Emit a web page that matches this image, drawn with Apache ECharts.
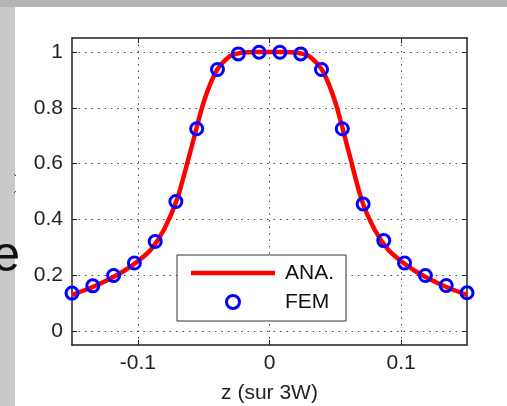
<!DOCTYPE html>
<html>
<head>
<meta charset="utf-8">
<script src="https://cdn.jsdelivr.net/npm/echarts@6/dist/echarts.min.js"></script>
<style>
  html, body { margin: 0; padding: 0; background: #fff; }
  #chart { width: 507px; height: 406px; }
</style>
</head>
<body>
<div id="chart"></div>
<script>
// analytic curve (ANA.)
var anaZ = [-0.15, -0.14, -0.13, -0.12, -0.11, -0.10, -0.09, -0.08, -0.07, -0.06, -0.05, -0.04, -0.03, -0.02, -0.01, 0,
            0.01, 0.02, 0.03, 0.04, 0.05, 0.06, 0.07, 0.08, 0.09, 0.10, 0.11, 0.12, 0.13, 0.14, 0.15];
var anaB = [0.13, 0.147, 0.167, 0.19, 0.217, 0.25, 0.292, 0.365, 0.475, 0.645, 0.82, 0.935, 0.985, 0.998, 1.0, 1.0,
            1.0, 0.998, 0.985, 0.935, 0.82, 0.645, 0.47, 0.362, 0.292, 0.25, 0.217, 0.19, 0.167, 0.147, 0.13];
// finite element points (FEM)
var femZ = [-0.15, -0.1342, -0.1184, -0.1026, -0.0868, -0.0711, -0.0553, -0.0395, -0.0237, -0.0079,
            0.0079, 0.0237, 0.0395, 0.0553, 0.0711, 0.0868, 0.1026, 0.1184, 0.1342, 0.15];
var femB = [0.136, 0.162, 0.199, 0.244, 0.321, 0.464, 0.725, 0.937, 0.993, 0.999,
            0.999, 0.993, 0.937, 0.725, 0.455, 0.324, 0.244, 0.199, 0.163, 0.137];
// ticks
var xTicks = [-0.1, 0, 0.1];
var yTicks = [0, 0.2, 0.4, 0.6, 0.8, 1];

var chart = echarts.init(document.getElementById('chart'), null, { renderer: 'canvas' });

function pairs(xs, ys) {
  var out = [];
  for (var i = 0; i < xs.length; i++) out.push([xs[i], ys[i]]);
  return out;
}

var font = '"Liberation Sans", Arial, sans-serif';
var frame = { show: true, onZero: false, lineStyle: { color: '#222', width: 1.5 } };
var tickIn = { show: true, inside: true, length: 5, lineStyle: { color: '#222', width: 1 } };
var dotted = { show: true, lineStyle: { color: '#444', width: 1, type: [1.5, 5] } };

var option = {
  animation: false,
  backgroundColor: '#fff',
  textStyle: { fontFamily: font },
  graphic: [
    { type: 'rect', shape: { x: 0, y: 0, width: 507, height: 7 }, style: { fill: '#b4b4b4' }, z: -10 },
    { type: 'rect', shape: { x: 0, y: 7, width: 15, height: 399 }, style: { fill: '#c9c9c9' }, z: -10 },
    { type: 'text', x: 20, y: 257, style: { text: 'e', font: '50px ' + font, fill: '#111', textAlign: 'right', textVerticalAlign: 'middle' } },
    { type: 'line', shape: { x1: 14, y1: 174, x2: 16, y2: 176 }, style: { stroke: '#444', lineWidth: 1 } },
    { type: 'line', shape: { x1: 16, y1: 191, x2: 14, y2: 193 }, style: { stroke: '#444', lineWidth: 1 } }
  ],
  grid: { left: 72, right: 40, top: 38, bottom: 61, containLabel: false, outerBoundsMode: 'none' },
  legend: {
    orient: 'vertical',
    left: 177, top: 255,
    padding: [7, 12, 8, 14],
    itemWidth: 84, itemHeight: 13, itemGap: 7,
    backgroundColor: '#fff',
    borderColor: '#333', borderWidth: 1,
    textStyle: { fontSize: 21, color: '#111', lineHeight: 22, padding: [0, 0, 0, 5], fontFamily: font },
    data: [
      { name: 'ANA.', icon: 'path://M0,0L84,0L84,4.5L0,4.5Z' },
      { name: 'FEM', itemStyle: { borderWidth: 3, borderColor: '#0000ff', color: 'rgba(0,0,0,0)' } }
    ]
  },
  xAxis: [
    {
      type: 'value', min: -0.15, max: 0.15, position: 'bottom',
      name: 'z (sur 3W)', nameLocation: 'middle', nameGap: 38,
      nameTextStyle: { fontSize: 21, color: '#222', fontFamily: font },
      axisLine: frame,
      axisTick: Object.assign({ customValues: xTicks }, tickIn),
      axisLabel: { customValues: xTicks, fontSize: 21, color: '#222', margin: 8, fontFamily: font },
      splitLine: dotted
    },
    {
      type: 'value', min: -0.15, max: 0.15, position: 'top',
      axisLine: frame,
      axisTick: Object.assign({ customValues: xTicks }, tickIn),
      axisLabel: { show: false },
      splitLine: { show: false }
    }
  ],
  yAxis: [
    {
      type: 'value', min: -0.05, max: 1.05, position: 'left',
      axisLine: frame,
      axisTick: Object.assign({ customValues: yTicks }, tickIn),
      axisLabel: { customValues: yTicks, fontSize: 21, color: '#222', margin: 9, fontFamily: font },
      splitLine: dotted
    },
    {
      type: 'value', min: -0.05, max: 1.05, position: 'right',
      axisLine: frame,
      axisTick: Object.assign({ customValues: yTicks }, tickIn),
      axisLabel: { show: false },
      splitLine: { show: false }
    }
  ],
  series: [
    {
      name: 'ANA.',
      type: 'line',
      data: pairs(anaZ, anaB),
      symbol: 'none',
      smooth: 0.25,
      lineStyle: { color: '#ff0000', width: 4.5 },
      itemStyle: { color: '#ff0000' },
      z: 2
    },
    {
      name: 'FEM',
      type: 'scatter',
      data: pairs(femZ, femB),
      symbol: 'circle',
      symbolSize: 12,
      clip: false,
      itemStyle: { color: 'rgba(0,0,0,0)', borderColor: '#0000ff', borderWidth: 3, opacity: 1 },
      z: 3
    }
  ]
};

chart.setOption(option);
</script>
</body>
</html>
